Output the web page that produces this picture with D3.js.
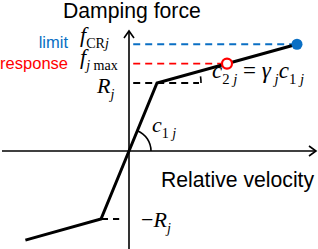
<!DOCTYPE html>
<html>
<head>
<meta charset="utf-8">
<script src="https://d3js.org/d3.v7.min.js"></script>
<style>
	html, body {margin: 0; background: #fff; overflow: hidden}
	.ax {stroke: #000; stroke-width: 1.6; fill: none}
	.curve {stroke: #000; stroke-width: 3; fill: none; stroke-linejoin: miter}
	.sans {font-family: Arial, "Liberation Sans", sans-serif}
	.math {font-family: "Times New Roman", "Liberation Serif", serif; font-style: italic}
</style>
</head>
<body>
<script>
	// damper force-velocity law (normalised: R = 1, c1 = 1)
	var velocity = [-3.7, -1, 0, 1, 6];
	var force = [-1.31, -1, 0, 1, 1.57];
	var fLimit = 1.57, vLimit = 6;
	var fResp = 1.285, vResp = 3.5;
	var Rj = 1;

	var blue = "#0a6fc4", red = "#ff0000";
	var width = 318, height = 249;

	var x = d3.scaleLinear().domain([0, 1]).range([129, 157]);
	var y = d3.scaleLinear().domain([0, 1]).range([151, 83]);

	var svg = d3.select("body").append("svg")
		.attr("width", width)
		.attr("height", height);

	// axes
	svg.append("line").attr("class", "ax")
		.attr("x1", 2).attr("x2", 316)
		.attr("y1", y(0)).attr("y2", y(0));
	svg.append("path").attr("class", "ax")
		.attr("d", "M309," + (y(0) - 5) + "L316," + y(0) + "L309," + (y(0) + 5));
	svg.append("line").attr("class", "ax")
		.attr("x1", x(0)).attr("x2", x(0))
		.attr("y1", 249).attr("y2", 31);
	svg.append("path").attr("class", "ax")
		.attr("d", "M" + (x(0) - 5) + ",38L" + x(0) + ",31L" + (x(0) + 5) + ",38");

	// dashed guides
	function guide(v0, v1, f, color) {
		svg.append("line")
			.attr("x1", x(v0)).attr("x2", x(v1))
			.attr("y1", y(f)).attr("y2", y(f))
			.attr("stroke", color).attr("stroke-width", 1.8)
			.attr("stroke-dasharray", "7,5");
	}
	guide(0.15, vLimit, fLimit, blue);
	guide(0.15, vResp - 0.2, fResp, red);
	guide(0.15, 2.5, Rj, "#000");
	guide(-1, -0.35, -Rj, "#000");

	// angle arcs
	var a1 = Math.atan2(y(0) - y(1), x(1) - x(0));
	svg.append("path").attr("class", "ax").attr("stroke-width", 1.2)
		.attr("d", d3.arc()({innerRadius: 22, outerRadius: 22, startAngle: Math.PI / 2 - a1, endAngle: Math.PI / 2}))
		.attr("transform", "translate(" + x(0) + "," + y(0) + ")");
	var a2 = Math.atan2(y(1) - y(fLimit), x(vLimit) - x(1));
	svg.append("path").attr("class", "ax").attr("stroke-width", 1.2)
		.attr("d", d3.arc()({innerRadius: 44, outerRadius: 44, startAngle: Math.PI / 2 - a2 * 0.55, endAngle: Math.PI / 2}))
		.attr("transform", "translate(" + x(1) + "," + y(1) + ")");

	// curve
	var line = d3.line().x(function(d) { return x(d[0]); }).y(function(d) { return y(d[1]); });
	svg.append("path").attr("class", "curve")
		.attr("d", line(d3.zip(velocity, force)));

	svg.append("circle")
		.attr("cx", x(vLimit)).attr("cy", y(fLimit)).attr("r", 5.5)
		.attr("fill", blue);
	svg.append("circle")
		.attr("cx", x(vResp)).attr("cy", y(fResp)).attr("r", 5)
		.attr("fill", "#fff").attr("stroke", red).attr("stroke-width", 2.2);

	// sans labels
	svg.append("text").attr("class", "sans")
		.attr("x", 63).attr("y", 18).attr("font-size", 21.2)
		.text("Damping force");
	svg.append("text").attr("class", "sans")
		.attr("x", 161).attr("y", 187).attr("font-size", 21.2)
		.text("Relative velocity");
	svg.append("text").attr("class", "sans")
		.attr("x", 68).attr("y", 48).attr("font-size", 16.5)
		.attr("text-anchor", "end").attr("fill", blue)
		.text("limit");
	svg.append("text").attr("class", "sans")
		.attr("x", 68).attr("y", 69).attr("font-size", 16.5)
		.attr("text-anchor", "end").attr("fill", red)
		.text("response");

	// math labels: parts = [text, sub?, italic?]
	function mathLabel(px, py, size, parts) {
		var t = svg.append("text").attr("class", "math")
			.attr("x", px).attr("y", py).attr("font-size", size);
		var inSub = false;
		parts.forEach(function(p) {
			var s = t.append("tspan").text(p[0]);
			if (p[1] && !inSub) { s.attr("dy", size * 0.25); inSub = true; }
			else if (!p[1] && inSub) { s.attr("dy", -size * 0.25); inSub = false; }
			if (p[1]) s.attr("font-size", size * 0.64);
			if (p[2] === false) s.attr("font-style", "normal");
		});
	}
	mathLabel(80, 42, 22, [["f"], ["CR", 1, false], ["j", 1]]);
	mathLabel(80, 64, 22, [["f"], ["j ", 1], ["max", 1, false]]);
	mathLabel(97, 93, 22, [["R"], ["j", 1]]);
	mathLabel(141, 227, 22, [["\u2212", 0, false], ["R"], ["j", 1]]);
	mathLabel(152, 132, 22, [["c"], ["1", 1, false], [" j", 1]]);
	mathLabel(212, 78, 23, [["c"], ["2", 1, false], [" j", 1], [" = ", 0, false], ["\u03b3"], [" j", 1], ["c"], ["1", 1, false], [" j", 1]]);
</script>
</body>
</html>
